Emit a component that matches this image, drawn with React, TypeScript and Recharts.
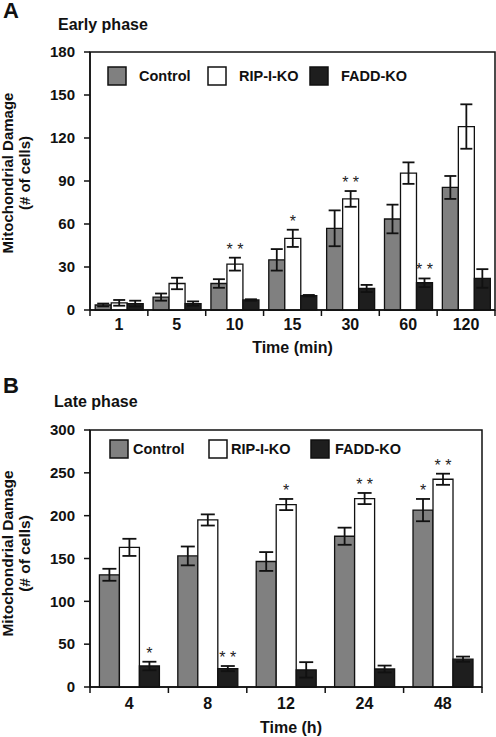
import React from 'react';
import { BarChart, Bar, XAxis, YAxis, ErrorBar, LabelList, Legend, ReferenceArea } from 'recharts';

const FONT = '"Liberation Sans", Arial, Helvetica, sans-serif';
const INK = '#111111';

// ---------- Early phase (A) ----------
const earlyCategories = ['1', '5', '10', '15', '30', '60', '120'];
const earlyControl = [3.5, 9, 18.5, 35, 57, 63.5, 85.5];
const earlyControlErr = [1, 2.5, 3, 7.5, 12.5, 10, 8];
const earlyControlSig = ['', '', '', '', '', '', ''];
const earlyRip = [5, 18.5, 32, 50, 77.5, 95.5, 128];
const earlyRipErr = [2, 4, 4.5, 6, 5.5, 7.5, 15.5];
const earlyRipSig = ['', '', '**', '*', '**', '', ''];
const earlyFadd = [4.5, 4.5, 7, 10, 15, 19, 22];
const earlyFaddErr = [2, 1.5, 0.5, 0.5, 2.5, 3, 6.5];
const earlyFaddSig = ['', '', '', '', '', '**', ''];
const earlyTicks = [0, 30, 60, 90, 120, 150, 180];

// ---------- Late phase (B) ----------
const lateCategories = ['4', '8', '12', '24', '48'];
const lateControl = [131, 153, 146.5, 176, 206.5];
const lateControlErr = [7, 11, 11, 10, 13];
const lateControlSig = ['', '', '', '', '*'];
const lateRip = [163, 195, 213, 220, 242.5];
const lateRipErr = [10, 6.5, 6.5, 6.5, 6.5];
const lateRipSig = ['', '', '*', '**', '**'];
const lateFadd = [24.5, 21.5, 20, 21, 32.5];
const lateFaddErr = [5, 3, 9, 4, 3];
const lateFaddSig = ['*', '**', '', '', ''];
const lateTicks = [0, 50, 100, 150, 200, 250, 300];

const seriesNames = ['Control', 'RIP-I-KO', 'FADD-KO'];
const seriesFills = ['#808080', '#ffffff', '#1e1e1e'];

function buildRows(
  cats: string[],
  c: number[], ce: number[], cs: string[],
  r: number[], re: number[], rs: string[],
  f: number[], fe: number[], fs: string[]
) {
  return cats.map((cat, i) => ({
    cat,
    c: c[i], ce: ce[i], cs: cs[i],
    r: r[i], re: re[i], rs: rs[i],
    f: f[i], fe: fe[i], fs: fs[i],
  }));
}

const earlyRows = buildRows(
  earlyCategories,
  earlyControl, earlyControlErr, earlyControlSig,
  earlyRip, earlyRipErr, earlyRipSig,
  earlyFadd, earlyFaddErr, earlyFaddSig
);
const lateRows = buildRows(
  lateCategories,
  lateControl, lateControlErr, lateControlSig,
  lateRip, lateRipErr, lateRipSig,
  lateFadd, lateFaddErr, lateFaddSig
);

const makeSig = (vals: number[], errs: number[]) => (props: any) => {
  const { x, y, width, height, value, index } = props;
  if (!value || index == null) return null;
  const v = vals[index];
  if (!v) return null;
  const pxPerUnit = Number(height) / v;
  const top = Number(y) - errs[index] * pxPerUnit;
  return (
    <text
      x={Number(x) + Number(width) / 2}
      y={top - 3}
      textAnchor="middle"
      fontSize={16}
      fontFamily={FONT}
      fill="#222222"
    >
      {value === '**' ? '* *' : '*'}
    </text>
  );
};

const makeXTick = (n: number, labelGap: number) => (props: any) => {
  const { x, y, payload, index } = props;
  const half = payload && payload.offset ? payload.offset : 0;
  return (
    <g>
      <line x1={x - half} y1={y} x2={x - half} y2={y + 6} stroke={INK} strokeWidth={1.5} />
      {index === n - 1 && (
        <line x1={x + half} y1={y} x2={x + half} y2={y + 6} stroke={INK} strokeWidth={1.5} />
      )}
      <text
        x={x}
        y={y + labelGap}
        dy="0.71em"
        textAnchor="middle"
        fontSize={16}
        fontWeight="bold"
        fontFamily={FONT}
        fill={INK}
      >
        {payload.value}
      </text>
    </g>
  );
};

const makeXTitle = (title: string, baseline: number, shift: number) => (props: any) => {
  const vb = props.viewBox || {};
  return (
    <text
      x={vb.x + vb.width / 2 + shift}
      y={vb.y + baseline}
      textAnchor="middle"
      fontSize={16}
      fontWeight="bold"
      fontFamily={FONT}
      fill={INK}
    >
      {title}
    </text>
  );
};

const makeYTitle = (centerShift: number, fontSize: number) => (props: any) => {
  const vb = props.viewBox || {};
  const cy = vb.y + vb.height / 2 + centerShift;
  const x1 = 12.5;
  const x2 = 29.5;
  return (
    <g>
      <text
        x={x1}
        y={cy}
        transform={`rotate(-90 ${x1} ${cy})`}
        textAnchor="middle"
        fontSize={fontSize}
        fontWeight="bold"
        fontFamily={FONT}
        fill={INK}
      >
        Mitochondrial Damage
      </text>
      <text
        x={x2}
        y={cy}
        transform={`rotate(-90 ${x2} ${cy})`}
        textAnchor="middle"
        fontSize={fontSize}
        fontWeight="bold"
        fontFamily={FONT}
        fill={INK}
      >
        (# of cells)
      </text>
    </g>
  );
};

const makeLegend = (boxX: number[], textX: number[], cy: number) => () => {
  return (
    <svg width={496} height={110} style={{ display: 'block' }}>
      {seriesNames.map((name, i) => (
        <g key={name}>
          <rect
            x={boxX[i]}
            y={cy - 9}
            width={18}
            height={18}
            fill={seriesFills[i]}
            stroke={INK}
            strokeWidth={1.5}
          />
          <text
            x={textX[i]}
            y={cy}
            dy="0.36em"
            fontSize={14.5}
            fontWeight="bold"
            fontFamily={FONT}
            fill={INK}
          >
            {name}
          </text>
        </g>
      ))}
    </svg>
  );
};

type PanelProps = {
  rows: any[];
  nCats: number;
  vals: number[][];
  errs: number[][];
  ticks: number[];
  yMax: number;
  width: number;
  height: number;
  margin: { top: number; right: number; left: number; bottom: number };
  xAxisHeight: number;
  labelGap: number;
  titleBaseline: number;
  titleShift: number;
  xTitle: string;
  gap: string;
  errHalf: number;
  yCenterShift: number;
  yFont: number;
  legendBoxX: number[];
  legendTextX: number[];
  legendCy: number;
};

function Panel(p: PanelProps) {
  const keys = ['c', 'r', 'f'];
  const errKeys = ['ce', 're', 'fe'];
  const sigKeys = ['cs', 'rs', 'fs'];
  return (
    <BarChart
      width={p.width}
      height={p.height}
      data={p.rows}
      margin={p.margin}
      barCategoryGap={p.gap}
      barGap={0}
    >
      <ReferenceArea
        y1={0}
        y2={p.yMax}
        fill="none"
        stroke={INK}
        strokeWidth={1.5}
        ifOverflow="visible"
      />
      <XAxis
        dataKey="cat"
        type="category"
        interval={0}
        height={p.xAxisHeight}
        axisLine={{ stroke: INK, strokeWidth: 1.5 }}
        tickLine={false}
        tickSize={0}
        tickMargin={0}
        tick={makeXTick(p.nCats, p.labelGap)}
        label={{ content: makeXTitle(p.xTitle, p.titleBaseline, p.titleShift) } as any}
      />
      <YAxis
        type="number"
        domain={[0, p.yMax]}
        ticks={p.ticks}
        interval={0}
        width={90}
        axisLine={{ stroke: INK, strokeWidth: 1.5 }}
        tickLine={{ stroke: INK, strokeWidth: 1.5 }}
        tickSize={6}
        tickMargin={9}
        tick={{ fontSize: 15, fontWeight: 'bold', fontFamily: FONT, fill: INK }}
        label={{ content: makeYTitle(p.yCenterShift, p.yFont) } as any}
      />
      <Legend
        layout="horizontal"
        verticalAlign="middle"
        align="center"
        wrapperStyle={{ position: 'absolute', left: 0, top: 0, width: 496, height: 110, pointerEvents: 'none' }}
        content={makeLegend(p.legendBoxX, p.legendTextX, p.legendCy)}
      />
      {keys.map((k, i) => (
        <Bar
          key={k}
          dataKey={k}
          name={seriesNames[i]}
          fill={seriesFills[i]}
          stroke={INK}
          strokeWidth={1.3}
          isAnimationActive={false}
        >
          <ErrorBar
            dataKey={errKeys[i]}
            direction="y"
            width={p.errHalf}
            stroke={INK}
            strokeWidth={1.8}
            isAnimationActive={false}
          />
          <LabelList dataKey={sigKeys[i]} content={makeSig(p.vals[i], p.errs[i])} />
        </Bar>
      ))}
    </BarChart>
  );
}

export default function App() {
  return (
    <div style={{ position: 'absolute', left: 0, top: 0, width: 496, height: 737, background: '#ffffff' }}>
      <svg
        width={496}
        height={737}
        style={{ position: 'absolute', left: 0, top: 0 }}
      >
        <text x={3} y={18} fontSize={22} fontWeight="bold" fontFamily={FONT} fill={INK}>A</text>
        <text x={58} y={30} fontSize={16} fontWeight="bold" fontFamily={FONT} fill={INK}>Early phase</text>
        <text x={3} y={393} fontSize={22} fontWeight="bold" fontFamily={FONT} fill={INK}>B</text>
        <text x={54} y={406.5} fontSize={16} fontWeight="bold" fontFamily={FONT} fill={INK}>Late phase</text>
      </svg>
      <div style={{ position: 'absolute', left: 0, top: 0 }}>
        <Panel
          rows={earlyRows}
          nCats={earlyCategories.length}
          vals={[earlyControl, earlyRip, earlyFadd]}
          errs={[earlyControlErr, earlyRipErr, earlyFaddErr]}
          ticks={earlyTicks}
          yMax={180}
          width={496}
          height={370}
          margin={{ top: 52, right: 1, left: 0, bottom: 0 }}
          xAxisHeight={60}
          labelGap={9}
          titleBaseline={43}
          titleShift={0}
          xTitle="Time (min)"
          gap="9%"
          errHalf={6}
          yCenterShift={-8}
          yFont={15}
          legendBoxX={[108, 208, 310]}
          legendTextX={[139, 239, 341]}
          legendCy={76}
        />
      </div>
      <div style={{ position: 'absolute', left: 0, top: 370 }}>
        <Panel
          rows={lateRows}
          nCats={lateCategories.length}
          vals={[lateControl, lateRip, lateFadd]}
          errs={[lateControlErr, lateRipErr, lateFaddErr]}
          ticks={lateTicks}
          yMax={300}
          width={496}
          height={367}
          margin={{ top: 60, right: 14, left: 0, bottom: 0 }}
          xAxisHeight={50}
          labelGap={11}
          titleBaseline={46}
          titleShift={5}
          xTitle="Time (h)"
          gap="12%"
          errHalf={7}
          yCenterShift={-5}
          yFont={15.5}
          legendBoxX={[110, 209, 311]}
          legendTextX={[133, 231, 335]}
          legendCy={79}
        />
      </div>
    </div>
  );
}
